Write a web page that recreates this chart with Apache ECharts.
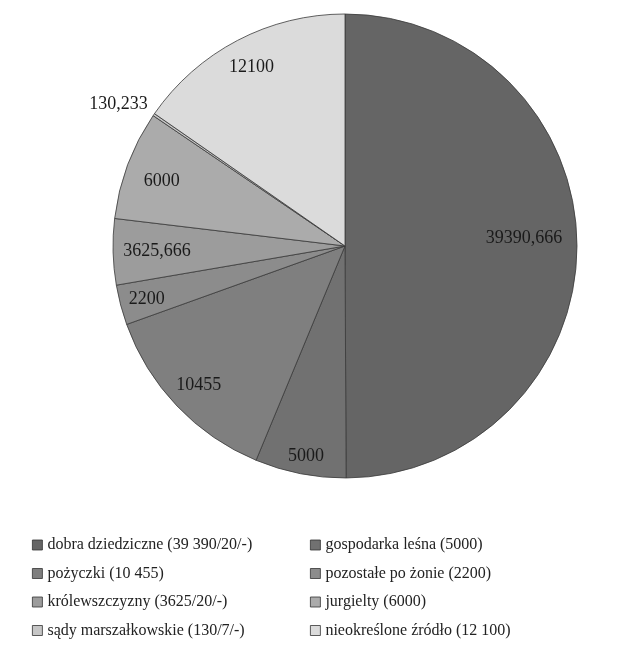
<!DOCTYPE html>
<html>
<head>
<meta charset="utf-8">
<script src="https://cdn.jsdelivr.net/npm/echarts@6/dist/echarts.min.js"></script>
<style>
html,body{margin:0;padding:0;background:#fff;}
#c{width:639px;height:668px;}
</style>
</head>
<body>
<div id="c"></div>
<script>
const names = [
  'dobra dziedziczne (39 390/20/-)',
  'gospodarka leśna (5000)',
  'pożyczki (10 455)',
  'pozostałe po żonie (2200)',
  'królewszczyzny (3625/20/-)',
  'jurgielty (6000)',
  'sądy marszałkowskie (130/7/-)',
  'nieokreślone źródło (12 100)'
];
const values = [39390.666, 5000, 10455, 2200, 3625.666, 6000, 130.233, 12100];
const colors = ['#656565', '#717171', '#7f7f7f', '#8c8c8c', '#9c9c9c', '#ababab', '#c6c6c6', '#dbdbdb'];
// label nudges (style only), in px
const labelNudge = [[-23, -7], [0, 12], [0, 0], [-3, 2], [14, 0], [6, 6], [4, -7], [0, 0]];

const FONT = 'Liberation Serif';
const center = [345, 246];
const R = 232;

const baseData = names.map((n, i) => ({ name: n, value: values[i], itemStyle: { color: colors[i] } }));
const labelData = names.map((n, i) => {
  const d = { name: n, value: values[i] };
  if (i === 6) {
    d.label = { position: 'outside' };
    d.labelLine = { show: false, length: 6, length2: 0 };
  }
  return d;
});

const legendBase = {
  orient: 'vertical',
  icon: 'rect', itemWidth: 10, itemHeight: 10, itemGap: 8.5,
  itemStyle: { borderColor: '#333', borderWidth: 0.8 },
  textStyle: { fontFamily: FONT, fontSize: 16, color: '#222', lineHeight: 20 },
  selectedMode: false
};

const chart = echarts.init(document.getElementById('c'), null, { renderer: 'canvas' });
chart.setOption({
  backgroundColor: '#ffffff',
  animation: false,
  color: colors,
  legend: [
    Object.assign({}, legendBase, { left: 27, top: 530, data: [names[0], names[2], names[4], names[6]] }),
    Object.assign({}, legendBase, { left: 305, top: 530, data: [names[1], names[3], names[5], names[7]] })
  ],
  series: [
    {
      type: 'pie',
      center: center,
      radius: [0, R],
      startAngle: 90,
      clockwise: true,
      data: baseData,
      label: { show: false },
      labelLine: { show: false },
      itemStyle: { borderColor: '#3a3a3a', borderWidth: 0.8 },
      emphasis: { disabled: true },
      silent: true
    },
    {
      type: 'pie',
      center: center,
      radius: [166, R],
      startAngle: 90,
      clockwise: true,
      data: labelData,
      itemStyle: { color: 'rgba(0,0,0,0)', borderWidth: 0 },
      label: {
        show: true,
        position: 'inside',
        fontFamily: FONT,
        fontSize: 18,
        color: '#1a1a1a',
        formatter: p => String(p.value).replace('.', ',')
      },
      labelLine: { show: false },
      labelLayout: p => ({ dx: labelNudge[p.dataIndex][0], dy: labelNudge[p.dataIndex][1] }),
      emphasis: { disabled: true },
      silent: true,
      z: 5
    }
  ]
});
</script>
</body>
</html>
